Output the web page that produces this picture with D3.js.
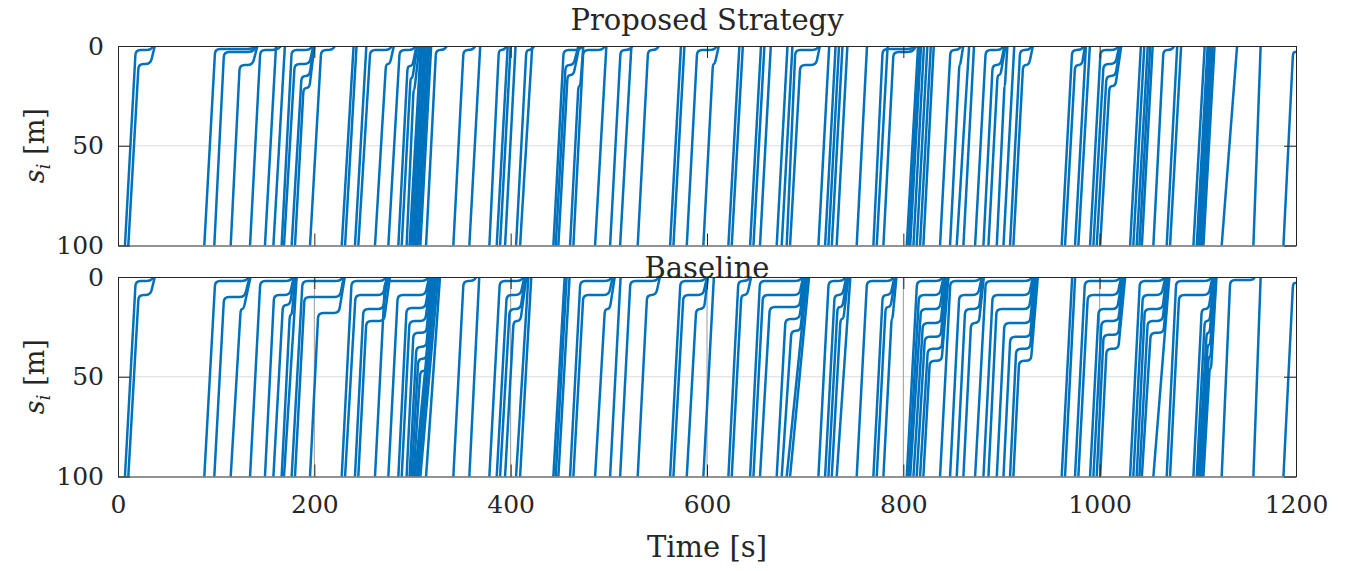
<!DOCTYPE html>
<html>
<head>
<meta charset="utf-8">
<script src="https://cdn.jsdelivr.net/npm/d3@7"></script>
<style>
  body { margin: 0; background: #fff; }
  text { font-family: "DejaVu Serif", "Liberation Serif", serif; fill: #262626; }
</style>
</head>
<body>
<div id="app"></div>
<script>

var timeTicks = [0, 200, 400, 600, 800, 1000, 1200];
var posTicks = [0, 50, 100];
var panelTitles = ["Proposed Strategy", "Baseline"];

// one row per vehicle: [time at s=100, time at s=0, then (stop s, from, to) ...]
var proposedTracks = [
    [7.1, 36, 2, 18, 33], [10.5, 37.5, 9, 21, 33],
    [87.9, 140, 1.5, 99, 137], [98.1, 141, 3, 108, 137], [114.8, 142, 9.5, 124, 137],
    [134.5, 166, 2, 145, 162], [149.7, 161], [158.3, 170],
    [166.7, 198, 2, 177, 195], [169.1, 199, 9, 180, 195], [176.9, 199.5, 15, 187, 195], [180.3, 200, 21, 189, 195],
    [195.6, 221, 2, 207, 218],
    [227.9, 240], [231.3, 243], [241.4, 253],
    [244.8, 279, 2, 257, 276], [261.8, 281, 9, 273, 277],
    [275.4, 303, 2, 287, 300], [285.6, 304, 10, 295, 300], [289, 305, 16, 298, 300], [294, 307, 22, 301, 302],
    [297, 308.5], [299, 310], [301, 312], [302.5, 313.5], [304.5, 315.5], [306, 317], [308, 319],
    [313.8, 335, 2, 324, 332], [341.6, 364, 2, 352, 361], [357.9, 369],
    [378.3, 396, 2, 388, 393], [385.8, 397], [389.2, 400], [394.3, 405],
    [405.5, 424, 2, 416, 421], [409.6, 422],
    [443.5, 473, 2, 454, 470], [445.9, 469, 9.5, 456, 464], [448.6, 470, 14.5, 458, 464], [460.5, 474, 20, 469, 471],
    [463.9, 496, 2, 474, 493], [486, 497.5],
    [501.3, 524, 2, 512, 521], [511.5, 523], [529.4, 551, 2, 540, 548],
    [562.4, 573.5], [565.8, 577], [579.4, 610, 2, 590, 607], [596.3, 612, 9, 606, 608],
    [621.8, 633], [625.2, 636.5], [643.9, 655], [647.3, 658.5], [654, 665],
    [671, 682], [676.1, 687], [681.2, 714, 2, 690, 711], [684.6, 715, 9.5, 695, 711],
    [713.5, 724.5], [720.3, 731], [723.7, 734.5], [727.1, 738], [732.1, 743], [752.5, 763],
    [769.5, 812, 1.5, 779, 809], [772.9, 784], [779.7, 813, 3, 790, 809],
    [803.5, 815], [805.5, 817], [807, 818], [810.3, 821], [813.6, 824.5], [817, 828], [820.4, 831],
    [837.4, 859, 2, 848, 856], [847.6, 861, 9.5, 857, 858], [854.4, 867], [861.2, 872],
    [873.1, 902, 2, 884, 899], [881.6, 903, 9.5, 891, 899], [886.7, 904, 14.5, 896, 899], [895.2, 906, 20, 903, 903.5],
    [902, 913], [908.7, 931, 2, 919, 928], [912.1, 932, 9.5, 922, 928],
    [961.3, 984, 2, 972, 981], [964.7, 985, 9.5, 975, 982], [974.9, 986], [978.3, 990],
    [990.2, 1019, 2, 1001, 1016], [993.6, 1020, 9, 1004, 1016], [997, 1021, 15, 1007, 1016], [1000.5, 1022, 20, 1010, 1016],
    [1031, 1042], [1034.3, 1045.5], [1037.7, 1049], [1040.5, 1051.5], [1043, 1054],
    [1054.7, 1076, 2, 1065, 1073], [1068.3, 1079], [1071.7, 1083],
    [1095.5, 1107], [1098.9, 1110], [1100.6, 1111.5], [1102.3, 1113], [1104, 1115], [1105.7, 1117],
    [1124.3, 1140], [1156.6, 1164], [1187.2, null, 3, 1197, 1200]
];

var baselineTracks = [
    [7.1, 36, 2, 18, 33], [10.5, 37.5, 9, 21, 33],
    [87.9, 133, 2, 99, 130], [98.1, 134, 10, 108, 129], [114.8, 135, 16, 125, 128],
    [134.5, 178, 2, 145, 175], [149.7, 179, 9, 159, 175], [158.3, 180, 14, 168, 175], [166.7, 181, 19, 175, 177],
    [169.1, 182],
    [176.9, 229, 2, 188, 226], [180.3, 230, 10, 190, 226], [195.6, 231, 18, 204, 225],
    [227.9, 273, 2, 238, 270], [231.3, 274, 9, 242, 270], [241.4, 275, 16, 250, 270], [244.8, 277, 22, 253, 271],
    [261.8, 316, 2, 272, 313], [275.4, 317, 9, 285, 313], [285.6, 318, 15.5, 294, 313], [289, 319, 22, 297, 313],
    [294, 320, 28, 301, 314], [297, 320.5, 35, 304, 314], [299, 321, 41, 306, 314], [301, 321.5, 47, 308, 315],
    [302.5, 322], [304.5, 323], [306, 324], [308, 326], [313.8, 328],
    [341.6, 365, 2, 352, 362], [357.9, 368],
    [378.3, 413, 2, 389, 410], [385.8, 414, 9, 396, 410], [389.2, 415, 16, 399, 410], [394.3, 416, 22, 403, 410],
    [405.5, 418], [409.6, 421],
    [443.5, 455], [445.9, 457], [448.6, 460],
    [460.5, 503, 2, 471, 500], [463.9, 504, 9, 474, 500], [486, 506, 16, 496, 501], [501.3, 512],
    [511.5, 551, 2, 522, 548], [529.4, 552, 9, 539, 548],
    [562.4, 599, 2, 573, 596], [565.8, 600, 9, 576, 596], [579.4, 601, 16, 589, 597], [596.3, 607],
    [621.8, 644, 2, 632, 641], [625.2, 645, 9, 635, 641],
    [643.9, 697, 2, 654, 694], [647.3, 698, 9, 657, 694], [654, 699, 15, 664, 694], [671, 700, 21, 680, 694],
    [676.1, 701, 27, 686, 695], [681.2, 702], [684.6, 704],
    [713.5, 741, 2, 724, 738], [720.3, 742, 9, 730, 738], [723.7, 743, 15, 733, 738], [727.1, 744, 21, 736, 739],
    [732.1, 746],
    [752.5, 790, 2, 763, 787], [769.5, 791, 9, 779, 787], [772.9, 792, 15, 782, 787], [779.7, 793, 21, 788, 789],
    [803.5, 840, 2, 814, 837], [805.5, 841, 9, 816, 837], [807, 842, 16, 818, 837], [810.3, 843, 23, 820, 838],
    [813.6, 844, 30, 822, 838], [817, 845, 36, 825, 839], [820.4, 846, 42, 827, 839],
    [837.4, 879, 2, 848, 876], [847.6, 880, 9, 857, 876], [854.4, 881, 16, 863, 877], [861.2, 882, 23, 869, 877],
    [873.1, 931, 2, 884, 928], [881.6, 932, 9, 891, 928], [886.7, 933, 16, 895, 928], [895.2, 934, 23, 903, 929],
    [902, 935, 30, 909, 929], [908.7, 936, 36, 915, 929], [912.1, 937, 42, 918, 930],
    [961.3, 972], [964.7, 975],
    [974.9, 1021, 2, 985, 1018], [978.3, 1022, 9, 988, 1018], [990.2, 1023, 16, 999, 1018],
    [993.6, 1024, 22, 1002, 1019], [997, 1025, 29, 1004, 1019], [1000.5, 1026, 36, 1007, 1019],
    [1031, 1066, 2, 1041, 1063], [1034.3, 1067, 9, 1044, 1063], [1037.7, 1068, 16, 1046, 1064], [1040.5, 1069, 22, 1049, 1064],
    [1043, 1070, 28, 1052, 1065], [1054.7, 1071],
    [1068.3, 1114, 2, 1078, 1111], [1071.7, 1115, 9, 1081, 1111], [1095.5, 1116, 16, 1104, 1111],
    [1098.9, 1117, 22, 1107, 1112], [1100.6, 1117.5, 28, 1109, 1112], [1102.3, 1118, 34, 1110, 1112.5],
    [1104, 1118.5, 40, 1111, 1113], [1105.7, 1119, 46, 1112, 1113.5],
    [1124.3, 1158, 1.5, 1133, 1156], [1156.6, 1164], [1187.2, null, 3, 1197, 1200]
];

var W = 1347, H = 571;
var left = 118, right = 1296;
var panels = [
    { title: panelTitles[0], tracks: proposedTracks, top: 46, bottom: 245.5, titleY: 30, xGrid: false, xLabels: false },
    { title: panelTitles[1], tracks: baselineTracks, top: 277, bottom: 476.5, titleY: 278, xGrid: true, xLabels: true }
];

var svg = d3.select("#app")
    .append("svg")
    .attr("width", W)
    .attr("height", H);

var x = d3.scaleLinear().domain([0, 1200]).range([left, right]);

function trackPoints(row, y) {
    var pts = [[x(row[0]), y(100)]];
    for (var i = 2; i + 2 < row.length; i += 3) {
	pts.push([x(row[i + 1]), y(row[i])]);
	pts.push([x(row[i + 2]), y(row[i])]);
    }
    if (row[1] !== null) pts.push([x(row[1]), y(0)]);
    return pts;
}

// polyline with small rounded corners
function roundedPath(p, r) {
    var path = d3.path();
    path.moveTo(p[0][0], p[0][1]);
    for (var i = 1; i < p.length - 1; i++) {
	var a = p[i - 1], b = p[i], c = p[i + 1];
	var l1 = Math.hypot(b[0] - a[0], b[1] - a[1]);
	var l2 = Math.hypot(c[0] - b[0], c[1] - b[1]);
	if (l1 < 0.01 || l2 < 0.01) { path.lineTo(b[0], b[1]); continue; }
	var k1 = Math.min(r, l1 / 2) / l1, k2 = Math.min(r, l2 / 2) / l2;
	path.lineTo(b[0] - (b[0] - a[0]) * k1, b[1] - (b[1] - a[1]) * k1);
	path.quadraticCurveTo(b[0], b[1], b[0] + (c[0] - b[0]) * k2, b[1] + (c[1] - b[1]) * k2);
    }
    var last = p[p.length - 1];
    path.lineTo(last[0], last[1]);
    return path.toString();
}

panels.forEach(function (pn, idx) {
    var y = d3.scaleLinear().domain([0, 100]).range([pn.top, pn.bottom]);
    var g = svg.append("g");

    g.append("clipPath")
	.attr("id", "clip" + idx)
	.append("rect")
	.attr("x", left)
	.attr("y", pn.top)
	.attr("width", right - left)
	.attr("height", pn.bottom - pn.top);

    // grid
    g.selectAll(".ygrid")
	.data([50])
	.enter()
	.append("line")
	.attr("x1", left).attr("x2", right)
	.attr("y1", y).attr("y2", y)
	.style("stroke", "#dcdcdc")
	.style("stroke-width", 1);

    if (pn.xGrid) {
	g.selectAll(".xgrid")
	    .data(timeTicks.slice(1, -1))
	    .enter()
	    .append("line")
	    .attr("x1", x).attr("x2", x)
	    .attr("y1", pn.top).attr("y2", pn.bottom)
	    .style("stroke", "#9a9a9a")
	    .style("stroke-width", 1);
    }

    g.append("g")
	.attr("clip-path", "url(#clip" + idx + ")")
	.selectAll("path")
	.data(pn.tracks)
	.enter()
	.append("path")
	.attr("d", function (row) { return roundedPath(trackPoints(row, y), 5); })
	.style("fill", "none")
	.style("stroke", "#0072bd")
	.style("stroke-width", 2.5)
	.style("stroke-linejoin", "round");

    // axes, ticks pointing inward
    var axes = [
	g.append("g").attr("transform", "translate(" + left + ",0)")
	    .call(d3.axisLeft(y).tickValues(posTicks).tickSize(-12).tickSizeOuter(0).tickPadding(14)),
	g.append("g").attr("transform", "translate(" + right + ",0)")
	    .call(d3.axisRight(y).tickValues(posTicks).tickSize(-12).tickSizeOuter(0).tickFormat("")),
	g.append("g").attr("transform", "translate(0," + pn.top + ")")
	    .call(d3.axisTop(x).tickValues(timeTicks).tickSize(-12).tickSizeOuter(0).tickFormat("")),
	g.append("g").attr("transform", "translate(0," + pn.bottom + ")")
	    .call(d3.axisBottom(x).tickValues(timeTicks).tickSize(-12).tickSizeOuter(0).tickPadding(19)
		  .tickFormat(pn.xLabels ? d3.format("d") : ""))
    ];
    axes.forEach(function (a) {
	a.selectAll(".domain").style("stroke", "#262626").style("stroke-width", 1);
	a.selectAll(".tick line").style("stroke", "#262626").style("stroke-width", 1);
	a.selectAll(".tick text").style("font-size", "25px").style("font-family", "DejaVu Serif").style("fill", "#262626");
    });

    g.append("text")
	.attr("x", (left + right) / 2)
	.attr("y", pn.titleY)
	.attr("text-anchor", "middle")
	.style("font-size", "29px")
	.text(pn.title);

    var lab = g.append("text")
	.attr("transform", "translate(44," + (pn.top + pn.bottom) / 2 + ") rotate(-90)")
	.attr("text-anchor", "middle")
	.style("font-size", "27px");
    lab.append("tspan").style("font-style", "italic").text("s");
    lab.append("tspan").style("font-style", "italic").style("font-size", "19px").attr("dy", 6).text("i");
    lab.append("tspan").attr("dy", -6).text(" [m]");
});

svg.append("text")
    .attr("x", (left + right) / 2)
    .attr("y", 557)
    .attr("text-anchor", "middle")
    .style("font-size", "29px")
    .text("Time [s]");

</script>
</body>
</html>
